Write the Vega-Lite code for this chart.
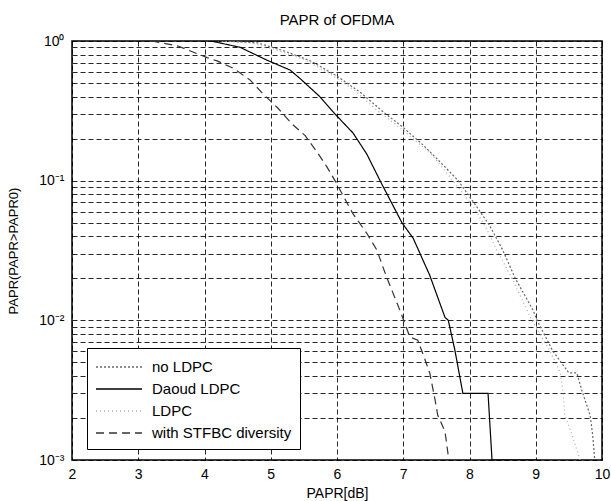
{
  "$schema": "https://vega.github.io/schema/vega-lite/v6.json",
  "width": 530,
  "height": 419,
  "autosize": {"type": "none"},
  "padding": {"left": 72, "top": 41, "right": 9, "bottom": 41},
  "background": "white",
  "title": {"text": "PAPR of OFDMA", "fontSize": 15, "font": "Liberation Sans", "fontWeight": "normal", "offset": 6, "anchor": "middle", "color": "black"},
  "config": {
    "view": {"stroke": "black", "strokeWidth": 1.5},
    "axis": {"grid": true, "gridDash": [5, 3], "gridColor": "black", "gridWidth": 1, "gridOpacity": 0.85, "ticks": false, "domain": false, "labelFont": "Liberation Sans", "labelFontSize": 14, "labelColor": "black", "titleFont": "Liberation Sans", "titleFontSize": 14, "titleFontWeight": "normal", "titleColor": "black"}
  },
  "data": {"values": [
    {"series": "no LDPC", "x": 4.3, "p": 1.0},
    {"series": "no LDPC", "x": 4.8, "p": 0.97},
    {"series": "no LDPC", "x": 5.2, "p": 0.85},
    {"series": "no LDPC", "x": 5.6, "p": 0.72},
    {"series": "no LDPC", "x": 6.0, "p": 0.56},
    {"series": "no LDPC", "x": 6.35, "p": 0.43},
    {"series": "no LDPC", "x": 6.7, "p": 0.31},
    {"series": "no LDPC", "x": 7.0, "p": 0.24},
    {"series": "no LDPC", "x": 7.3, "p": 0.18},
    {"series": "no LDPC", "x": 7.5, "p": 0.145},
    {"series": "no LDPC", "x": 7.83, "p": 0.1},
    {"series": "no LDPC", "x": 8.1, "p": 0.066},
    {"series": "no LDPC", "x": 8.3, "p": 0.048},
    {"series": "no LDPC", "x": 8.5, "p": 0.032},
    {"series": "no LDPC", "x": 8.69, "p": 0.02},
    {"series": "no LDPC", "x": 8.96, "p": 0.0118},
    {"series": "no LDPC", "x": 9.02, "p": 0.01},
    {"series": "no LDPC", "x": 9.26, "p": 0.006},
    {"series": "no LDPC", "x": 9.5, "p": 0.0042},
    {"series": "no LDPC", "x": 9.62, "p": 0.0042},
    {"series": "no LDPC", "x": 9.7, "p": 0.0031},
    {"series": "no LDPC", "x": 9.82, "p": 0.0021},
    {"series": "no LDPC", "x": 9.86, "p": 0.0015},
    {"series": "no LDPC", "x": 9.89, "p": 0.001},
    {"series": "Daoud LDPC", "x": 4.1, "p": 1.0},
    {"series": "Daoud LDPC", "x": 4.54, "p": 0.9},
    {"series": "Daoud LDPC", "x": 4.94, "p": 0.73},
    {"series": "Daoud LDPC", "x": 5.29, "p": 0.62},
    {"series": "Daoud LDPC", "x": 5.44, "p": 0.54},
    {"series": "Daoud LDPC", "x": 5.74, "p": 0.4},
    {"series": "Daoud LDPC", "x": 5.97, "p": 0.3},
    {"series": "Daoud LDPC", "x": 6.24, "p": 0.22},
    {"series": "Daoud LDPC", "x": 6.45, "p": 0.155},
    {"series": "Daoud LDPC", "x": 6.65, "p": 0.1},
    {"series": "Daoud LDPC", "x": 6.98, "p": 0.05},
    {"series": "Daoud LDPC", "x": 7.15, "p": 0.0387},
    {"series": "Daoud LDPC", "x": 7.4, "p": 0.021},
    {"series": "Daoud LDPC", "x": 7.63, "p": 0.0105},
    {"series": "Daoud LDPC", "x": 7.68, "p": 0.01},
    {"series": "Daoud LDPC", "x": 7.78, "p": 0.0061},
    {"series": "Daoud LDPC", "x": 7.9, "p": 0.003},
    {"series": "Daoud LDPC", "x": 8.28, "p": 0.003},
    {"series": "Daoud LDPC", "x": 8.34, "p": 0.001},
    {"series": "Daoud LDPC", "x": 9.0, "p": 0.001},
    {"series": "LDPC", "x": 4.2, "p": 1.0},
    {"series": "LDPC", "x": 4.7, "p": 0.97},
    {"series": "LDPC", "x": 5.1, "p": 0.86},
    {"series": "LDPC", "x": 5.5, "p": 0.74},
    {"series": "LDPC", "x": 5.9, "p": 0.58},
    {"series": "LDPC", "x": 6.25, "p": 0.45},
    {"series": "LDPC", "x": 6.6, "p": 0.32},
    {"series": "LDPC", "x": 6.9, "p": 0.25},
    {"series": "LDPC", "x": 7.2, "p": 0.19},
    {"series": "LDPC", "x": 7.4, "p": 0.16},
    {"series": "LDPC", "x": 7.75, "p": 0.1},
    {"series": "LDPC", "x": 8.05, "p": 0.066},
    {"series": "LDPC", "x": 8.25, "p": 0.046},
    {"series": "LDPC", "x": 8.41, "p": 0.032},
    {"series": "LDPC", "x": 8.64, "p": 0.02},
    {"series": "LDPC", "x": 8.87, "p": 0.0118},
    {"series": "LDPC", "x": 8.94, "p": 0.01},
    {"series": "LDPC", "x": 9.22, "p": 0.006},
    {"series": "LDPC", "x": 9.37, "p": 0.0042},
    {"series": "LDPC", "x": 9.41, "p": 0.0031},
    {"series": "LDPC", "x": 9.44, "p": 0.0021},
    {"series": "LDPC", "x": 9.55, "p": 0.0015},
    {"series": "LDPC", "x": 9.67, "p": 0.001},
    {"series": "with STFBC diversity", "x": 3.2, "p": 1.0},
    {"series": "with STFBC diversity", "x": 3.6, "p": 0.92},
    {"series": "with STFBC diversity", "x": 4.04, "p": 0.76},
    {"series": "with STFBC diversity", "x": 4.19, "p": 0.72},
    {"series": "with STFBC diversity", "x": 4.43, "p": 0.64},
    {"series": "with STFBC diversity", "x": 4.69, "p": 0.525},
    {"series": "with STFBC diversity", "x": 4.88, "p": 0.42},
    {"series": "with STFBC diversity", "x": 5.11, "p": 0.33},
    {"series": "with STFBC diversity", "x": 5.32, "p": 0.255},
    {"series": "with STFBC diversity", "x": 5.52, "p": 0.21},
    {"series": "with STFBC diversity", "x": 5.7, "p": 0.16},
    {"series": "with STFBC diversity", "x": 5.85, "p": 0.125},
    {"series": "with STFBC diversity", "x": 5.97, "p": 0.1},
    {"series": "with STFBC diversity", "x": 6.24, "p": 0.058},
    {"series": "with STFBC diversity", "x": 6.45, "p": 0.042},
    {"series": "with STFBC diversity", "x": 6.6, "p": 0.032},
    {"series": "with STFBC diversity", "x": 6.75, "p": 0.0203},
    {"series": "with STFBC diversity", "x": 6.95, "p": 0.0118},
    {"series": "with STFBC diversity", "x": 7.1, "p": 0.0076},
    {"series": "with STFBC diversity", "x": 7.22, "p": 0.0072},
    {"series": "with STFBC diversity", "x": 7.33, "p": 0.0052},
    {"series": "with STFBC diversity", "x": 7.4, "p": 0.0042},
    {"series": "with STFBC diversity", "x": 7.48, "p": 0.0027},
    {"series": "with STFBC diversity", "x": 7.52, "p": 0.0021},
    {"series": "with STFBC diversity", "x": 7.63, "p": 0.0016},
    {"series": "with STFBC diversity", "x": 7.68, "p": 0.00107},
    {"series": "with STFBC diversity", "x": 7.7, "p": 0.001}
  ]},
  "mark": {"type": "line", "strokeWidth": 1.2, "clip": true},
  "encoding": {
    "x": {
      "field": "x", "type": "quantitative",
      "scale": {"domain": [2, 10], "nice": false, "zero": false},
      "axis": {"values": [2, 3, 4, 5, 6, 7, 8, 9, 10], "title": "PAPR[dB]", "labelPadding": 7, "titlePadding": 5, "labelFlush": false}
    },
    "y": {
      "field": "p", "type": "quantitative",
      "scale": {"type": "log", "domain": [0.001, 1], "nice": false},
      "axis": {
        "values": [0.001, 0.002, 0.003, 0.004, 0.005, 0.006, 0.007, 0.008, 0.009, 0.01, 0.02, 0.03, 0.04, 0.05, 0.06, 0.07, 0.08, 0.09, 0.1, 0.2, 0.3, 0.4, 0.5, 0.6, 0.7, 0.8, 0.9, 1],
        "labelExpr": "datum.value > 0.99 ? '10⁰' : abs(datum.value - 0.1) < 1e-9 ? '10⁻¹' : abs(datum.value - 0.01) < 1e-9 ? '10⁻²' : abs(datum.value - 0.001) < 1e-9 ? '10⁻³' : ''",
        "title": "PAPR(PAPR>PAPR0)", "titleFontSize": 13, "labelPadding": 8, "titlePadding": 18, "labelFlush": false
      }
    },
    "color": {
      "field": "series", "type": "nominal",
      "scale": {"domain": ["no LDPC", "Daoud LDPC", "LDPC", "with STFBC diversity"], "range": ["#666666", "#000000", "#aaaaaa", "#333333"]},
      "legend": {"orient": "none", "legendX": 15, "legendY": 307, "title": null, "symbolType": "M-2.3,0H2.3", "symbolSize": 400, "symbolOffset": 13, "symbolStrokeWidth": 1.3, "labelOffset": 22, "labelFontSize": 15, "labelFont": "Liberation Sans", "labelColor": "black", "strokeColor": "black", "fillColor": "white", "padding": 8, "rowPadding": 3, "labelLimit": 300}
    },
    "strokeDash": {
      "field": "series", "type": "nominal",
      "scale": {"domain": ["no LDPC", "Daoud LDPC", "LDPC", "with STFBC diversity"], "range": [[2, 2], [1, 0], [1, 3], [8, 5]]}
    }
  }
}
